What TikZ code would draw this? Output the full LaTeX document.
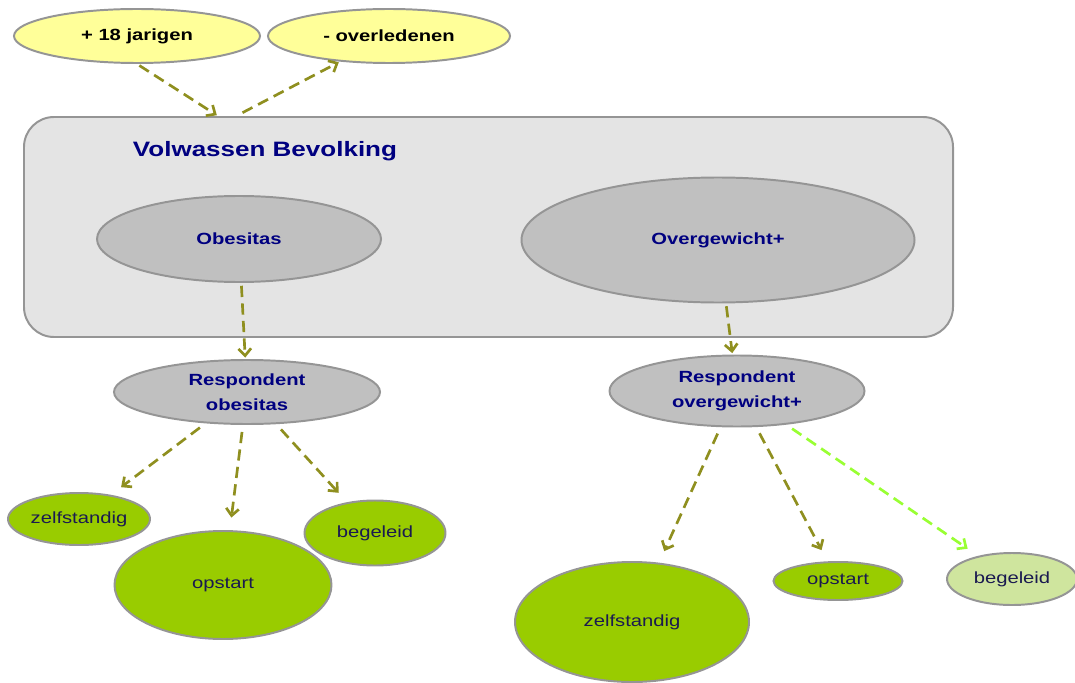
\documentclass[tikz,border=0pt]{standalone}
\usepackage{fontspec}
\setmainfont{Liberation Sans}[FakeStretch=1.25]
\usepackage{tikz}
\usetikzlibrary{shapes.geometric,arrows.meta}

\definecolor{lemon}{HTML}{FFFF99}
\definecolor{boxgray}{HTML}{E4E4E4}
\definecolor{ovalgray}{HTML}{C0C0C0}
\definecolor{rimgray}{HTML}{959595}
\definecolor{leaf}{HTML}{99CC00}
\definecolor{paleleaf}{HTML}{CFE59E}
\definecolor{olive}{HTML}{8F8F1F}
\definecolor{lime}{HTML}{99FF33}
\definecolor{navy}{HTML}{000080}
\definecolor{ink}{HTML}{1A1A50}

\begin{document}
\begin{tikzpicture}[x=0.025cm,y=-0.025cm]
  \tikzset{dims/.style 2 args = {minimum width=#1*0.025cm,minimum height=#2*0.025cm}}
  \tikzset{oval/.style = {shape=ellipse,inner sep=0pt,draw=rimgray,line width=1.4pt,align=center,
      font=\fontsize{11.5}{17.5}\selectfont\bfseries}}
  \tikzset{intake/.style = {oval,fill=lemon,text=black}}
  \tikzset{group/.style = {oval,fill=ovalgray,text=navy}}
  \tikzset{route/.style = {oval,fill=leaf,text=ink,font=\fontsize{11.5}{17.5}\selectfont}}
  \tikzset{link/.style = {draw=olive,line width=1.9pt,dash pattern=on 8pt off 4.5pt,
      -{Straight Barb[length=5pt,width=9pt]},shorten >=1pt,shorten <=2pt}}

  \useasboundingbox (0,0) rectangle (1075,682);

	\node[shape=rectangle,rounded corners=0.75cm,draw=rimgray,line width=1.4pt,fill=boxgray,dims={929}{220}] (0) at (488.5,227) {};
	\node[text=navy,font=\fontsize{14.8}{18}\selectfont\bfseries] (title) at (265,151) {Volwassen Bevolking};

	\node[intake,dims={246}{54}] (1) at (137,36) {+ 18 jarigen};
	\node[intake,dims={242}{54}] (2) at (389,36) {- overledenen};

	\coordinate (in) at (218,116);
	\coordinate (out) at (240,114);

		\node[group,dims={284}{86}] (3) at (239,239) {Obesitas};
		\node[group,dims={393}{125}] (4) at (718,240) {Overgewicht+};

	\node[group,dims={266}{64}] (5) at (247,392) {Respondent\\obesitas};
	\node[group,dims={255}{71}] (6) at (737,391) {Respondent\\overgewicht+};

		\node[route,dims={142}{52}] (7) at (79,519) {zelfstandig};
		\node[route,dims={217}{108}] (8) at (223,585) {opstart};
		\node[route,dims={141}{65}] (9) at (375,533) {begeleid};

		\node[route,dims={234}{120}] (10) at (632,622) {zelfstandig};
		\node[route,dims={129}{38}] (11) at (838,581) {opstart};
		\node[route,fill=paleleaf,dims={130}{52}] (12) at (1012,579) {begeleid};

    % top level
    \foreach \from/\to in {1.south/in,out/2,3/5,4/6}
    \draw[link] (\from) -- (\to);
    % respondents to routes
    \foreach \from/\to in {5/7,5/8,5/9,6/10,6/11}
    \draw[link,shorten >=9pt,shorten <=5pt] (\from) -- (\to);
    \draw[link,draw=lime,shorten >=9pt,shorten <=5pt] (6) -- (12);

\end{tikzpicture}
\end{document}
